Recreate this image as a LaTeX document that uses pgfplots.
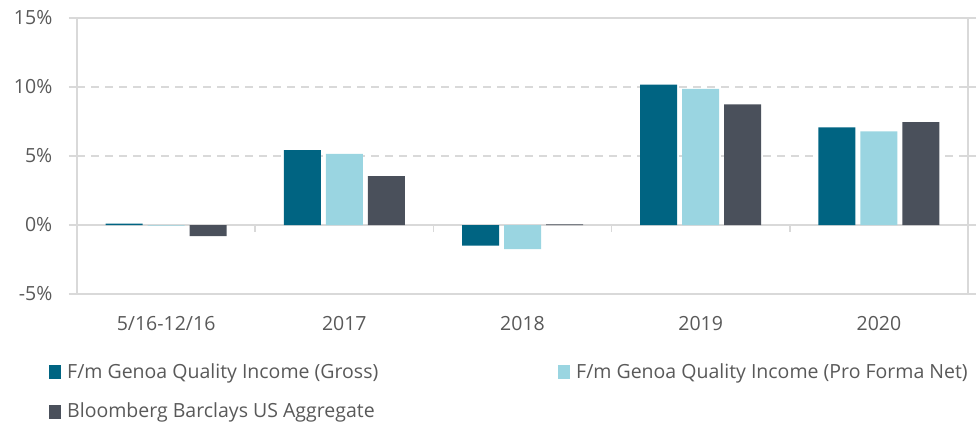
\documentclass[border=0pt]{standalone}
\usepackage{pgfplots}
\pgfplotsset{compat=1.18}
\usepackage{fontspec}
\setmainfont{Open Sans}
\definecolor{cgross}{HTML}{006482}
\definecolor{cnet}{HTML}{9AD5E1}
\definecolor{cagg}{HTML}{4A505B}
\definecolor{txt}{HTML}{595959}
\definecolor{frame}{HTML}{D9D9D9}
\begin{document}
\begin{tikzpicture}
\fontsize{19.5}{23}\selectfont
\path[use as bounding box] (-77pt,-131pt) rectangle (902pt,294pt);
\begin{axis}[
  at={(0pt,0pt)}, anchor=south west,
  scale only axis, width=891pt, height=276pt,
  ybar=5pt, bar width=37pt,
  xmin=-0.5, xmax=4.5, ymin=-5, ymax=15,
  xtick={0,1,2,3,4},
  xticklabels={5/16-12/16,2017,2018,2019,2020},
  major x tick style={draw=none},
  ytick={-5,0,5,10,15},
  yticklabel={\pgfmathprintnumber{\tick}\%},
  /pgf/number format/assume math mode=true,
  tick align=outside, major tick length=8pt,
  y tick style={frame, line width=1.2pt},
  ymajorgrids, grid style={frame, line width=1.2pt, dash pattern=on 8pt off 6pt},
  axis line style={frame, line width=1.5pt},
  ticklabel style={font=\fontsize{19.5}{23}\selectfont, text=txt},
  yticklabel style={xshift=-10pt},
  xticklabel style={yshift=-8pt},
  legend columns=2,
  legend style={draw=none, fill=none, at={(axis description cs:-0.0348,-0.355)}, anchor=west,
    font=\fontsize{19.5}{23}\selectfont, text=txt,
    cells={anchor=west}, row sep=18pt,
    /tikz/every even column/.style={column sep=0pt}},
  legend cell align=left,
  legend image code/.code={\fill[#1] (0pt,-7pt) rectangle (12pt,7pt); \path (16pt,0pt);},
  clip=false,
]
\draw[frame, line width=1.5pt] (axis cs:-0.5,0) -- (axis cs:4.5,0);
\draw[frame, line width=1.5pt] (axis cs:0.5,0) -- ++(0pt,-7pt);
\draw[frame, line width=1.5pt] (axis cs:1.5,0) -- ++(0pt,-7pt);
\draw[frame, line width=1.5pt] (axis cs:2.5,0) -- ++(0pt,-7pt);
\draw[frame, line width=1.5pt] (axis cs:3.5,0) -- ++(0pt,-7pt);
\addplot[fill=cgross, draw=none] coordinates {(0,0.1) (1,5.43) (2,-1.5) (3,10.17) (4,7.08)};
\addplot[fill=cnet, draw=none] coordinates {(0,-0.05) (1,5.15) (2,-1.75) (3,9.86) (4,6.79)};
\addplot[fill=cagg, draw=none] coordinates {(0,-0.8) (1,3.55) (2,0.05) (3,8.74) (4,7.46)};
\addlegendentry{\makebox[489pt][l]{F/m Genoa Quality Income (Gross)}}
\addlegendentry{F/m Genoa Quality Income (Pro Forma Net)}
\addlegendentry{Bloomberg Barclays US Aggregate}
\end{axis}
\end{tikzpicture}
\end{document}
